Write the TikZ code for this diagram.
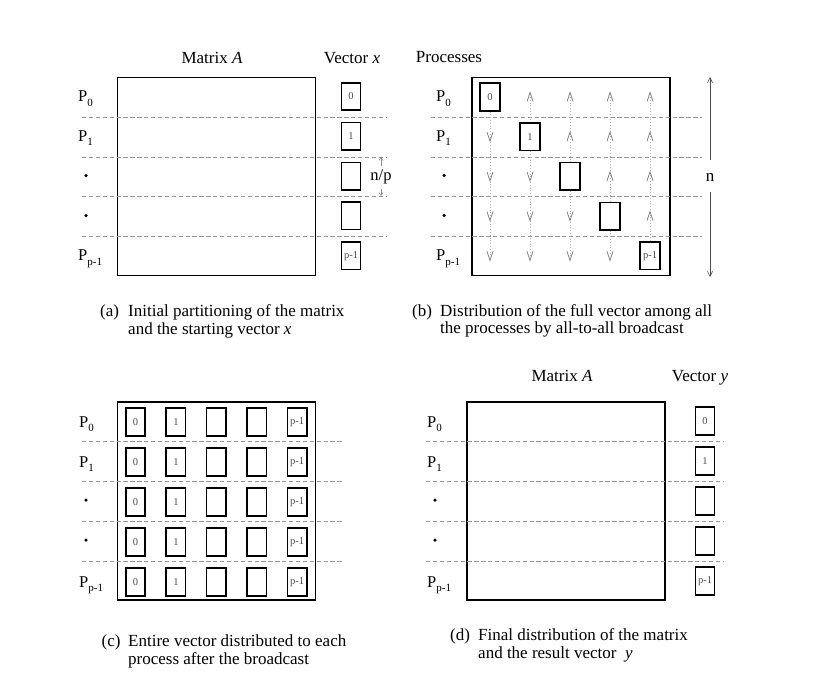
\documentclass[tikz,border=0pt]{standalone}
\usepackage{fontspec}
\setmainfont{Liberation Serif}
\usetikzlibrary{arrows.meta}
\newcommand\Psub[1]{P\raisebox{-4.5pt}{\fontsize{11}{11}\selectfont #1}}
\begin{document}
\begin{tikzpicture}[x=1pt,y=-1pt,
  mat/.style={draw,line width=1.5pt,inner sep=0,minimum width=198pt,minimum height=198pt},
  vbox/.style={draw,line width=1.6pt,inner sep=0,minimum width=19pt,minimum height=27.5pt,font=\fontsize{10.5}{10.5}\selectfont,text=black!70},
  sep/.style={draw=black!42,line width=0.9pt,dash pattern=on 4.3pt off 2.6pt},
  plab/.style={anchor=base west,inner sep=0,font=\fontsize{16.5}{18}\selectfont},
  dotp/.style={circle,fill,inner sep=0,minimum size=3.5pt},
  ttl/.style={anchor=base,inner sep=0,font=\fontsize{17}{18}\selectfont},
  capt/.style={anchor=base west,inner sep=0,font=\fontsize{17}{18}\selectfont},
  chev/.style={draw=black!50,line width=0.8pt},
  bcast/.style={draw=black!30,line width=0.8pt,dotted},
  small arrow/.style={draw=black!45,line width=0.6pt,-{Straight Barb[length=3pt,width=4pt]}},
  dim arrow/.style={draw=black!70,line width=0.6pt,-{Straight Barb[length=5pt,width=5pt]}},
]
\useasboundingbox (0,0) rectangle (813,699);

% ---------------- (a) ----------------
\node[mat] (amat) at (216.5,176.5) {};
\node[ttl] (attlA) at (212,63) {Matrix \textit{A}};
\node[ttl] (attlx) at (352,63) {Vector \textit{x}};
\foreach \r/\t in {0/0,1/1,2/{},3/{},4/p-1}
  \node[vbox] (av\r) at (351,96.5+39.8*\r) {\t};
\foreach \y in {117,157,196.5,236}
  \draw[sep] (82,\y) -- (386,\y);
\node[plab] (ap0) at (78,101.5) {\Psub{0}};
\node[plab] (ap1) at (78,141.2) {\Psub{1}};
\node[dotp] (ad2) at (86,175.5) {};
\node[dotp] (ad3) at (86,215.5) {};
\node[plab] (ap4) at (78,260.5) {\Psub{p-1}};
\node[inner sep=0,font=\fontsize{16.5}{18}\selectfont] (anp) at (381,177) {n/p};
\coordinate (anpt) at (381,157);
\coordinate (anpb) at (381,196);
\coordinate (anpu) at (381,166);
\coordinate (anpd) at (381,189);
\draw[small arrow] (anpu) -- (anpt);
\draw[small arrow] (anpd) -- (anpb);
\node[capt] (acap0) at (100,316.5) {(a)};
\node[capt] (acap1) at (128,316.5) {Initial partitioning of the matrix};
\node[capt] (acap2) at (128,334) {and the starting vector \textit{x}};

% ---------------- (b) ----------------
\node[mat] (bmat) at (571,176.5) {};
\node[ttl] (bttl) at (449,62.3) {Processes};
\foreach \y in {117,157,196.5,236}
  \draw[sep] (431,\y) -- (702,\y);
\node[plab] (bp0) at (436,101.5) {\Psub{0}};
\node[plab] (bp1) at (436,141.2) {\Psub{1}};
\node[dotp] (bd2) at (444,175.5) {};
\node[dotp] (bd3) at (444,215.5) {};
\node[plab] (bp4) at (436,260.5) {\Psub{p-1}};
\foreach \k/\t in {0/0,1/1,2/{},3/{},4/p-1}{
  \foreach \r in {0,...,4}
    \coordinate (bc\k\r) at (490+40*\k,97+39.7*\r);
  \node[vbox,minimum width=20pt] (bv\k) at (bc\k\k) {\t};
  \ifnum\k>0 \draw[bcast] (bc\k0) -- (bv\k.north); \fi
  \ifnum\k<4 \draw[bcast] (bv\k.south) -- (bc\k4); \fi
  \foreach \r in {0,...,4}{
    \ifnum\r<\k
      \draw[chev] ([shift={(-3,4.5)}]bc\k\r) -- ([shift={(0,-4.5)}]bc\k\r) -- ([shift={(3,4.5)}]bc\k\r);
    \fi
    \ifnum\r>\k
      \draw[chev] ([shift={(-3,-4.5)}]bc\k\r) -- ([shift={(0,4.5)}]bc\k\r) -- ([shift={(3,-4.5)}]bc\k\r);
    \fi
  }
}
\node[inner sep=0,font=\fontsize{17}{18}\selectfont] (bn) at (710,177) {n};
\coordinate (bnt) at (710,77);
\coordinate (bnb) at (710,277);
\coordinate (bnu) at (710,160);
\coordinate (bnd) at (710,192);
\draw[dim arrow] (bnu) -- (bnt);
\draw[dim arrow] (bnd) -- (bnb);
\node[capt] (bcap0) at (412,316.5) {(b)};
\node[capt] (bcap1) at (440,316.5) {Distribution of the full vector among all};
\node[capt] (bcap2) at (440,333.5) {the processes by all-to-all broadcast};

% ---------------- (c) ----------------
\node[mat] (cmat) at (216.5,501) {};
\foreach \y in {441,481,521,561}
  \draw[sep] (82,\y) -- (344,\y);
\node[plab] (cp0) at (79,427) {\Psub{0}};
\node[plab] (cp1) at (79,467) {\Psub{1}};
\node[dotp] (cd2) at (86,500) {};
\node[dotp] (cd3) at (86,540) {};
\node[plab] (cp4) at (79,587) {\Psub{p-1}};
\foreach \r in {0,...,4}
  \foreach \k/\t in {0/0,1/1,2/{},3/{},4/p-1}
    \node[vbox,minimum width=19.5pt,minimum height=28.5pt] (cv\r\k) at (135.5+40.4*\k,422+40*\r) {\t};
\node[capt] (ccap0) at (101.5,646.5) {(c)};
\node[capt] (ccap1) at (128,646.5) {Entire vector distributed to each};
\node[capt] (ccap2) at (128,664) {process after the broadcast};

% ---------------- (d) ----------------
\node[mat] (dmat) at (566,501) {};
\node[ttl] (dttlA) at (562,381) {Matrix \textit{A}};
\node[ttl] (dttly) at (700,381) {Vector \textit{y}};
\foreach \y in {441,481,521,561}
  \draw[sep] (426,\y) -- (723,\y);
\foreach \r/\t in {0/0,1/1,2/{},3/{},4/p-1}
  \node[vbox,minimum height=28.5pt] (dv\r) at (705,421+40*\r) {\t};
\node[plab] (dp0) at (427,427) {\Psub{0}};
\node[plab] (dp1) at (427,467) {\Psub{1}};
\node[dotp] (dd2) at (435,500) {};
\node[dotp] (dd3) at (435,540) {};
\node[plab] (dp4) at (427,587) {\Psub{p-1}};
\node[capt] (dcap0) at (450,640.5) {(d)};
\node[capt] (dcap1) at (478,640.5) {Final distribution of the matrix};
\node[capt] (dcap2) at (478,658) {and the result vector \ \textit{y}};
\end{tikzpicture}
\end{document}
